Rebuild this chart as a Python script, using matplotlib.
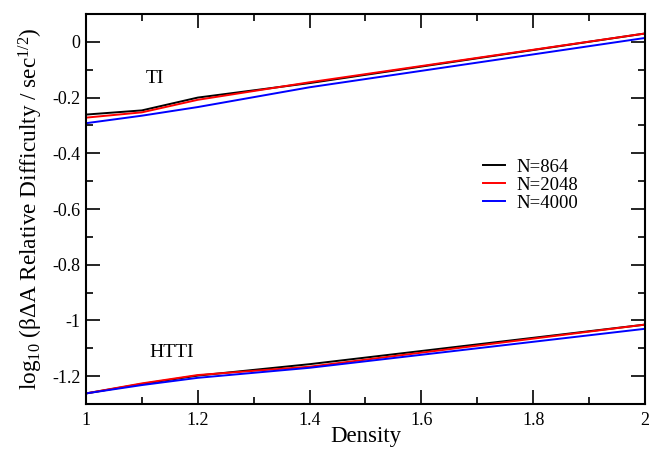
import matplotlib
matplotlib.use("Agg")
import matplotlib.pyplot as plt
import numpy as np

plt.rcParams['font.family'] = ['Liberation Serif', 'DejaVu Serif']
plt.rcParams['mathtext.fontset'] = 'custom'
plt.rcParams['mathtext.rm'] = 'Liberation Serif'
plt.rcParams['mathtext.it'] = 'Liberation Serif:italic'

# density points
density = [1.0, 1.1, 1.2, 1.4, 2.0]

# TI curves
ti_864 = [-0.261, -0.246, -0.200, -0.148, 0.030]
ti_2048 = [-0.272, -0.253, -0.208, -0.145, 0.030]
ti_4000 = [-0.292, -0.265, -0.234, -0.163, 0.014]

# HTTI curves
htti_864 = [-1.262, -1.228, -1.198, -1.157, -1.015]
htti_2048 = [-1.262, -1.226, -1.196, -1.166, -1.015]
htti_4000 = [-1.262, -1.232, -1.206, -1.170, -1.030]

labels = ['N=864', 'N=2048', 'N=4000']
colors = ['black', 'red', 'blue']

fig = plt.figure(figsize=(6.49, 4.49), dpi=100)
ax = fig.add_axes([0.1325, 0.1002, 0.8613, 0.8686])

for ti, htti, lab, c in zip([ti_864, ti_2048, ti_4000],
                            [htti_864, htti_2048, htti_4000], labels, colors):
    ax.plot(density, ti, color=c, lw=1.4, label=lab)
    ax.plot(density, htti, color=c, lw=1.4)

ax.set_xlim(1, 2)
ax.set_ylim(-1.3, 0.1)
ax.set_xticks(np.arange(1, 2.01, 0.2))
ax.set_xticklabels(['1', '1.2', '1.4', '1.6', '1.8', '2'])
ax.set_xticks(np.arange(1, 2.01, 0.1), minor=True)
ax.set_yticks([0, -0.2, -0.4, -0.6, -0.8, -1.0, -1.2])
ax.set_yticklabels(['0', '-0.2', '-0.4', '-0.6', '-0.8', '-1', '-1.2'])
ax.set_yticks(np.arange(-1.3, 0.11, 0.1), minor=True)
ax.tick_params(which='both', direction='in', top=True, right=True, labelsize=13, width=1.2)
ax.tick_params(which='major', length=10)
ax.tick_params(which='minor', length=5)
ax.tick_params(axis='x', which='major', pad=5.5)
ax.tick_params(axis='y', which='major', pad=4)
for s in ax.spines.values():
    s.set_linewidth(1.5)

ax.set_xlabel('Density', fontsize=16.5, labelpad=-2)
ax.set_ylabel(r'log$_{10}$ (βΔA Relative Difficulty / sec$^{1/2}$)', fontsize=16.75, labelpad=5)

ax.text(1.107, -0.1475, 'TI', fontsize=14)
ax.text(1.113, -1.13, 'HTTI', fontsize=14)

ax.legend(loc='center left', bbox_to_anchor=(0.71, 0.5615), frameon=False,
          fontsize=13.5, handlelength=1.2, handletextpad=0.6, labelspacing=0.05,
          borderpad=0, borderaxespad=0)

plt.savefig('out.png', dpi=100)
